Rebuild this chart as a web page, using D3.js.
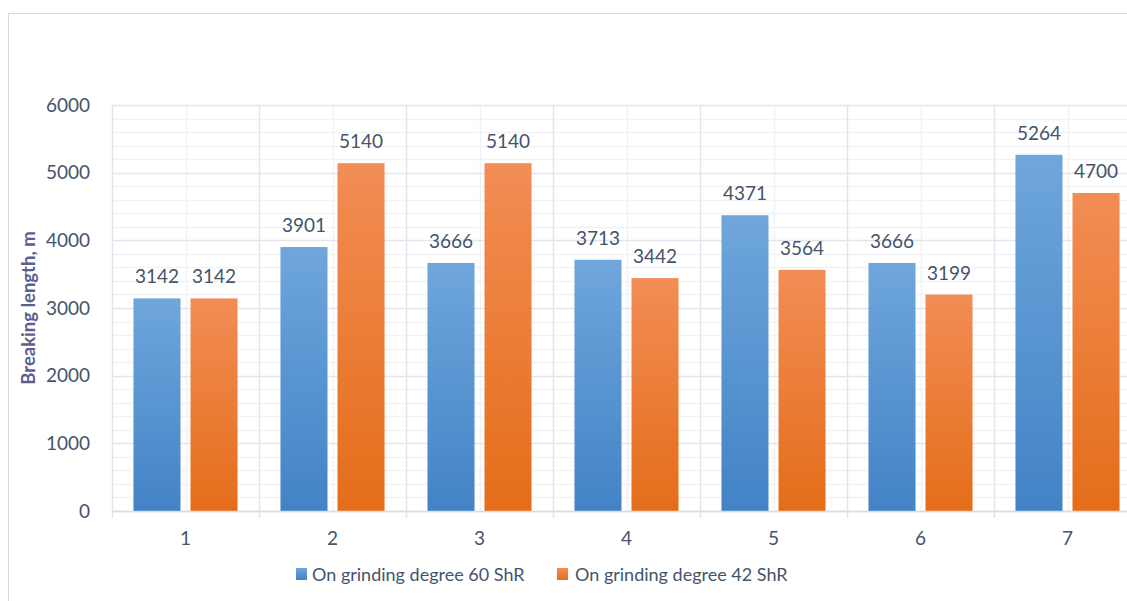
<!DOCTYPE html>
<html><head><meta charset="utf-8">
<script src="https://cdn.jsdelivr.net/npm/d3@7/dist/d3.min.js"></script>
<style>
html,body{margin:0;padding:0;background:#fff;overflow:hidden}
text{font-family:Lato,"Open Sans",sans-serif}
</style></head>
<body>
<svg id="c" width="1127" height="601"></svg>
<script>
const categories = ["1","2","3","4","5","6","7"];
const seriesNames = ["On grinding degree 60 ShR","On grinding degree 42 ShR"];
const series60 = [3142,3901,3666,3713,4371,3666,5264];
const series42 = [3142,5140,5140,3442,3564,3199,4700];
const yTicks = [0,1000,2000,3000,4000,5000,6000];
const yLabel = "Breaking length, m";

(function(){
const svg = d3.select("#c");
const pL = 112, pR = 1141, pT = 105, pB = 511;

const defs = svg.append("defs");
const grads = [["gBlue","#6fa6dc","#4283c6"],["gOrange","#f28d55","#e46d19"]];
grads.forEach(([id,a,b])=>{
  const g = defs.append("linearGradient").attr("id",id).attr("x1",0).attr("y1",0).attr("x2",0).attr("y2",1);
  g.append("stop").attr("offset","0%").attr("stop-color",a);
  g.append("stop").attr("offset","100%").attr("stop-color",b);
});

svg.append("rect").attr("x",8.5).attr("y",13.5).attr("width",1200).attr("height",700)
  .attr("fill","#fff").attr("stroke","#d9d9d9");

const x0 = d3.scaleBand().domain(categories).range([pL,pR]).paddingInner(0).paddingOuter(0);
const bw = x0.bandwidth();
const x1 = d3.scaleBand().domain([0,1]).range([bw*0.146, bw*0.854]).paddingInner(0.1754).paddingOuter(0);
const y = d3.scaleLinear().domain([0,6000]).range([pB,pT]);

const minor = d3.range(0,6001,200).filter(v=>v%1000!==0);
svg.append("g").selectAll("line").data(minor).join("line")
  .attr("x1",pL).attr("x2",pR).attr("y1",d=>Math.round(y(d))+0.5).attr("y2",d=>Math.round(y(d))+0.5)
  .attr("stroke","#f1f2f5").attr("stroke-width",1.5);
svg.append("g").selectAll("line").data(categories).join("line")
  .attr("x1",d=>Math.round(x0(d)+bw/2)+0.5).attr("x2",d=>Math.round(x0(d)+bw/2)+0.5)
  .attr("y1",pT).attr("y2",pB).attr("stroke","#f1f2f5").attr("stroke-width",1.5);
svg.append("g").selectAll("line").data(yTicks).join("line")
  .attr("x1",pL).attr("x2",pR).attr("y1",d=>Math.round(y(d))+0.5).attr("y2",d=>Math.round(y(d))+0.5)
  .attr("stroke","#e2e5ec").attr("stroke-width",1.5);
const bounds = categories.map(c=>x0(c)).concat([pR]);
svg.append("g").selectAll("line").data(bounds).join("line")
  .attr("x1",d=>Math.round(d)+0.5).attr("x2",d=>Math.round(d)+0.5)
  .attr("y1",pT).attr("y2",pB+7).attr("stroke","#e2e5ec").attr("stroke-width",1.5);

const data = categories.map((c,i)=>({c, vals:[series60[i],series42[i]]}));
const g = svg.append("g").selectAll("g").data(data).join("g")
  .attr("transform",d=>`translate(${x0(d.c)},0)`);
g.selectAll("rect").data(d=>d.vals.map((v,k)=>({v,k}))).join("rect")
  .attr("x",d=>x1(d.k)).attr("width",x1.bandwidth())
  .attr("y",d=>y(d.v)).attr("height",d=>y(0)-y(d.v))
  .attr("fill",d=>d.k===0?"url(#gBlue)":"url(#gOrange)");
g.selectAll("text").data(d=>d.vals.map((v,k)=>({v,k}))).join("text")
  .attr("x",d=>x1(d.k)+x1.bandwidth()/2).attr("y",d=>y(d.v)-15)
  .attr("text-anchor","middle").attr("font-size",19).attr("fill","#44546a")
  .text(d=>d.v);

svg.append("line").attr("x1",pL).attr("x2",pR).attr("y1",pB+0.5).attr("y2",pB+0.5)
  .attr("stroke","#d9dce3").attr("stroke-width",1.5);

svg.append("g").selectAll("text").data(yTicks).join("text")
  .attr("x",90).attr("y",d=>y(d)).attr("dy","0.35em").attr("text-anchor","end")
  .attr("font-size",19).attr("fill","#44546a").text(d=>d);
svg.append("g").selectAll("text").data(categories).join("text")
  .attr("x",d=>x0(d)+bw/2).attr("y",538).attr("dy","0.35em").attr("text-anchor","middle")
  .attr("font-size",19).attr("fill","#44546a").text(d=>d);

svg.append("text").attr("transform",`translate(35,${(pT+pB)/2}) rotate(-90)`)
  .attr("text-anchor","middle").attr("font-size",18.5).attr("font-weight","bold")
  .attr("fill","#5d5f8f").text(yLabel);

const legX = [296,557];
const lg = svg.append("g").selectAll("g").data(seriesNames).join("g")
  .attr("transform",(d,i)=>`translate(${legX[i]},568)`);
lg.append("rect").attr("width",11).attr("height",12).attr("fill",(d,i)=>i===0?"url(#gBlue)":"url(#gOrange)");
lg.append("text").attr("x",(d,i)=>i===0?16:18).attr("y",7).attr("dy","0.35em").attr("font-size",18)
  .attr("fill","#44546a").text(d=>d);
})();
</script>
</body></html>
